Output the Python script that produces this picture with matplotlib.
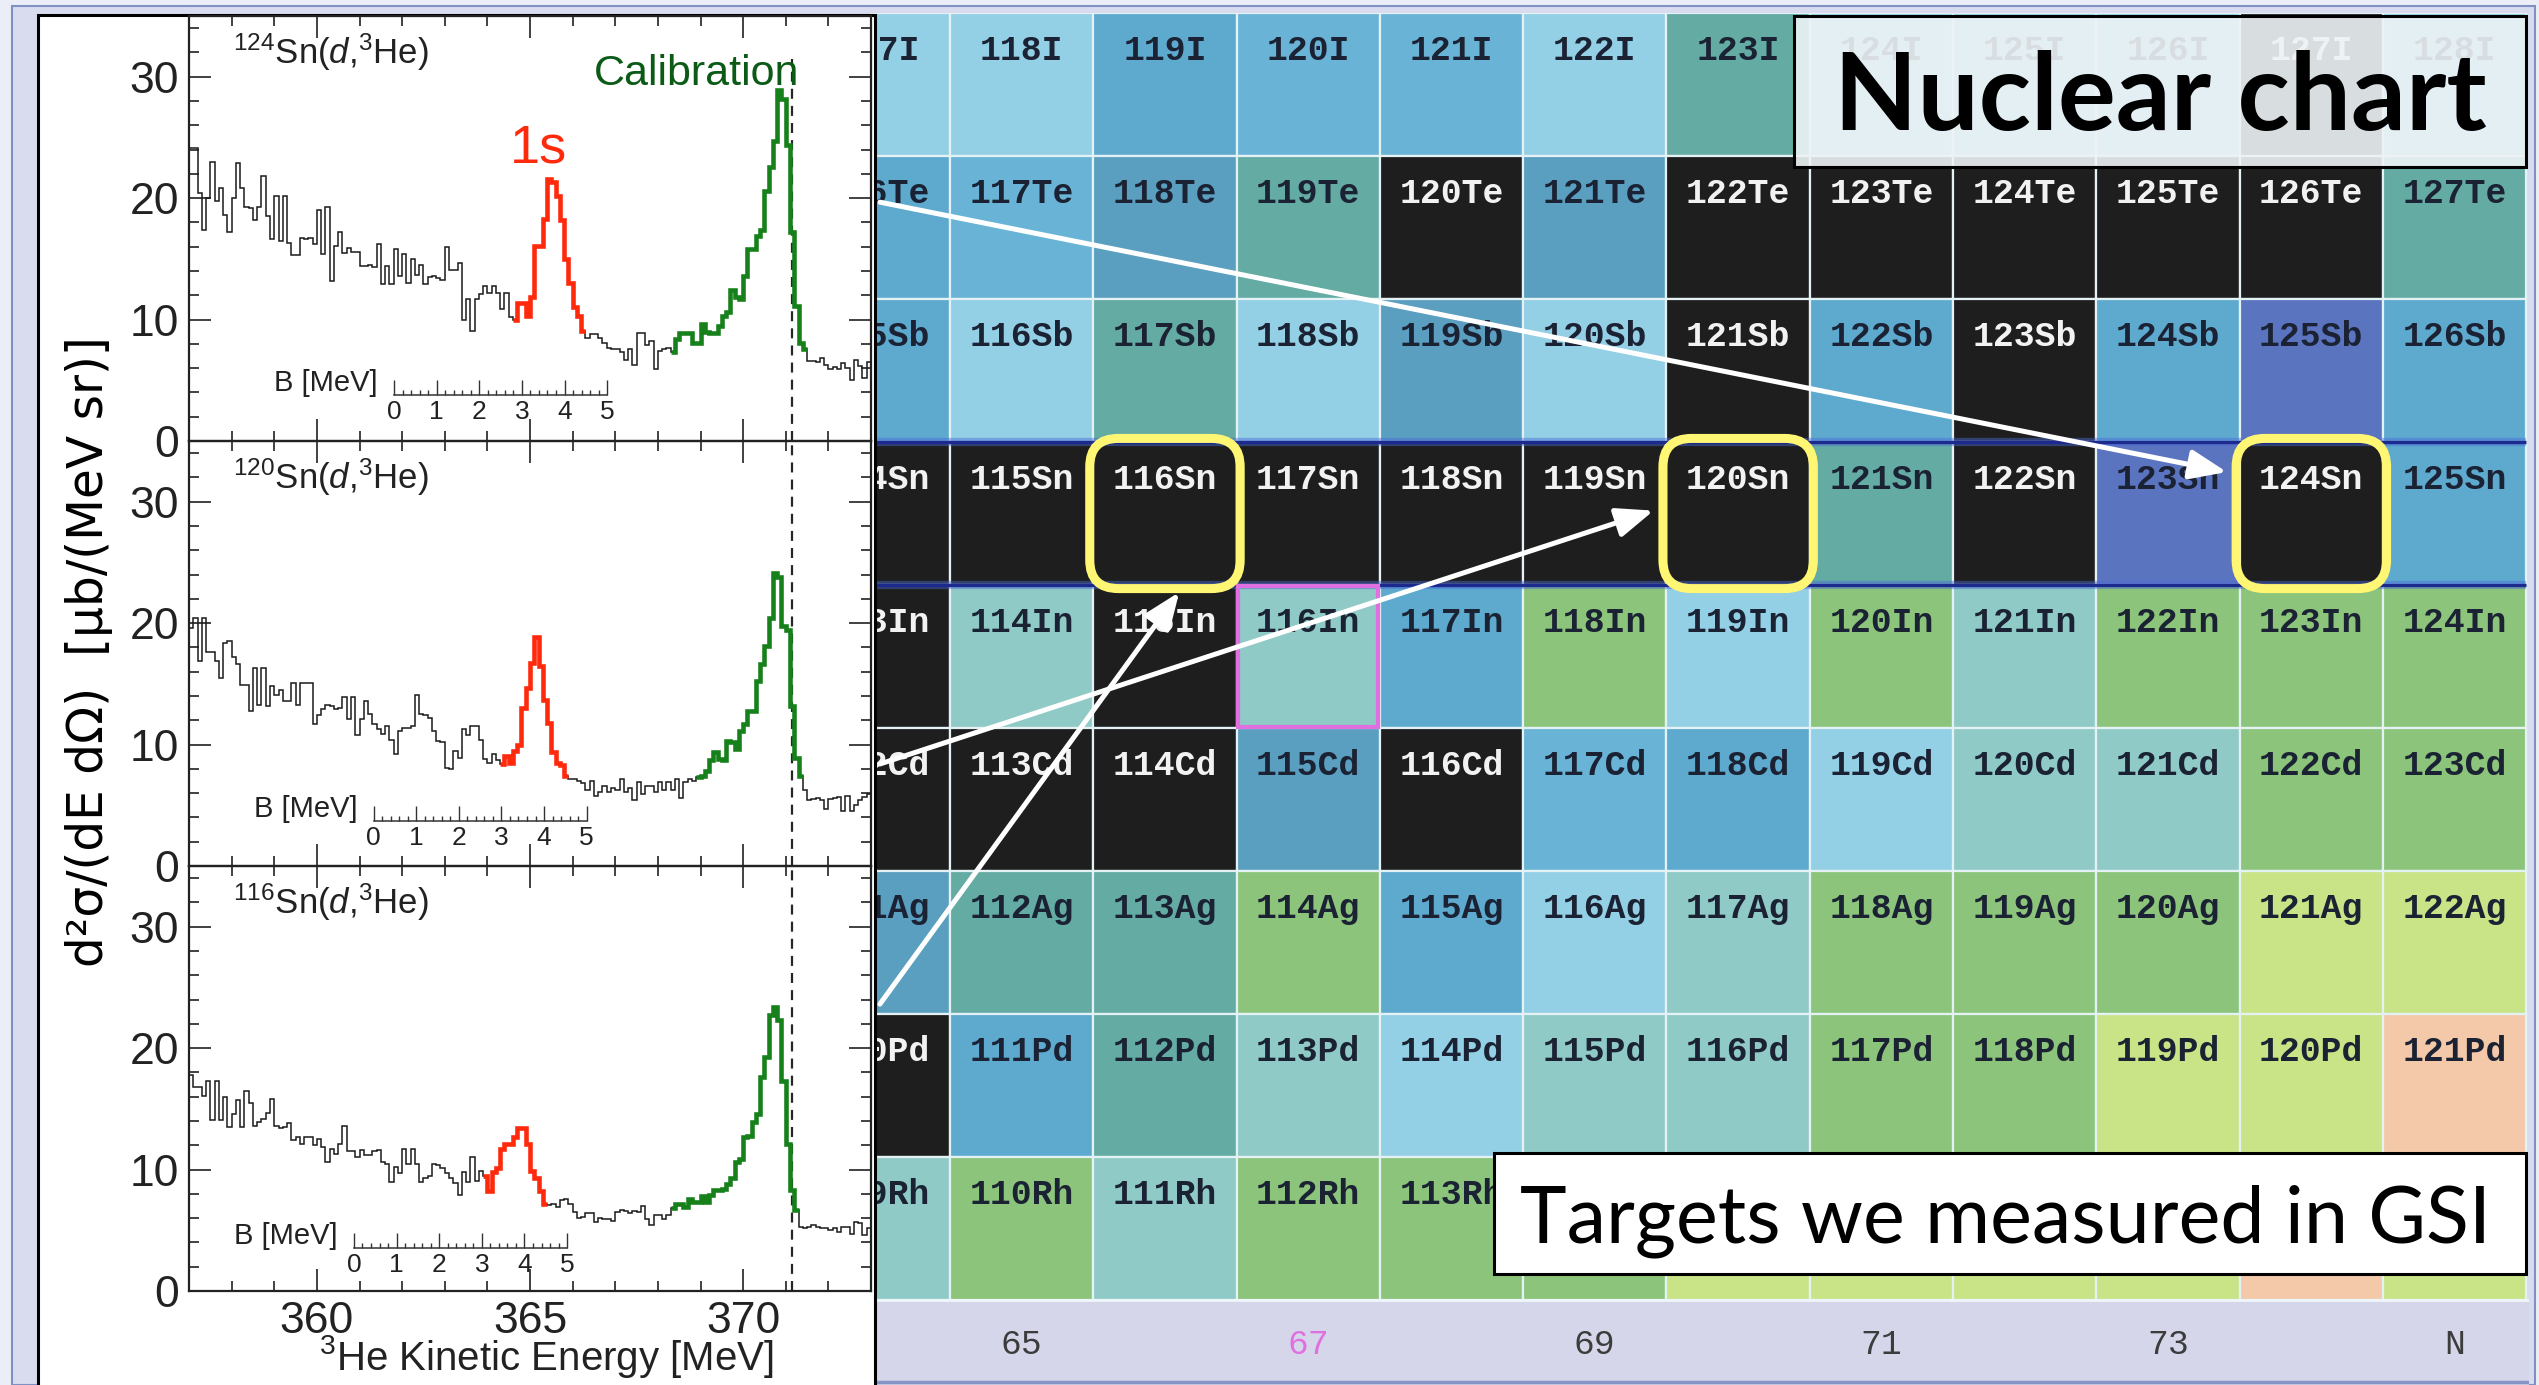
import numpy as np
import matplotlib
matplotlib.use("Agg")
import matplotlib.pyplot as plt
from matplotlib import font_manager
from matplotlib.patches import Rectangle, FancyBboxPatch
from matplotlib.ticker import MultipleLocator

W, H, DPI = 2539, 1385, 100

installed = {f.name for f in font_manager.fontManager.ttflist}
NARROW = "Liberation Sans Narrow" if "Liberation Sans Narrow" in installed else "Liberation Sans"
SANS = "Liberation Sans"
MONO = "Liberation Mono"
TITLE = "Lato"
plt.rcParams["font.family"] = [NARROW, "DejaVu Sans"]
plt.rcParams["mathtext.fontset"] = "custom"
plt.rcParams["mathtext.rm"] = SANS
plt.rcParams["mathtext.it"] = SANS + ":italic"
plt.rcParams["mathtext.bf"] = SANS + ":bold"

# ------------------------------------------------------------------
# (d,3He) spectra, 0.1 MeV bins from 357.0 to 373.0 MeV
# ------------------------------------------------------------------
E_MIN, E_MAX, BIN = 357.0, 373.0, 0.1
edges = np.round(np.arange(E_MIN, E_MAX + BIN / 2, BIN), 3)

sn124 = [24.1, 24.1, 20.4, 17.4, 20.0, 23.0, 19.8, 20.8, 18.6, 17.2,
         20.0, 22.9, 20.8, 19.3, 19.2, 18.2, 19.3, 21.8, 18.5, 16.6,
         20.2, 16.5, 20.2, 16.3, 15.3, 15.3, 16.7, 16.6, 16.7, 16.2,
         19.0, 15.4, 19.3, 13.2, 16.1, 17.2, 15.5, 15.9, 15.6, 15.6,
         14.4, 14.4, 14.5, 14.3, 16.2, 12.9, 14.4, 12.9, 15.8, 13.6,
         15.4, 13.0, 15.0, 13.7, 14.5, 12.9, 13.5, 13.6, 13.4, 13.3,
         16.0, 14.1, 14.1, 14.7, 10.0, 11.7, 9.1, 11.7, 12.1, 12.8,
         12.2, 12.8, 12.2, 10.9, 12.2, 10.2, 10.0, 11.4, 11.4, 10.3,
         11.9, 16.1, 16.1, 18.3, 21.6, 21.3, 20.2, 18.2, 15.0, 13.0,
         11.0, 10.3, 9.1, 8.5, 8.8, 8.8, 8.5, 8.1, 7.7, 7.6,
         7.6, 7.3, 6.7, 7.6, 6.3, 8.9, 8.9, 7.9, 8.2, 5.9,
         7.4, 7.6, 7.7, 7.3, 8.4, 8.9, 8.9, 8.9, 8.1, 8.1,
         9.6, 9.0, 8.9, 8.9, 9.5, 10.3, 10.6, 12.4, 11.9, 11.7,
         13.6, 15.8, 15.8, 16.9, 17.4, 20.6, 22.6, 24.7, 28.9, 28.2,
         24.4, 17.2, 11.1, 8.1, 7.6, 6.6, 6.6, 6.5, 6.8, 6.3,
         5.9, 6.1, 5.9, 6.4, 6.0, 5.0, 6.7, 6.2, 5.2, 6.5]

sn120 = [19.6, 20.4, 16.9, 20.4, 17.6, 17.6, 16.9, 15.5, 18.4, 18.5,
         17.2, 16.6, 14.9, 14.9, 12.8, 16.3, 13.3, 16.3, 13.2, 14.8,
         14.1, 14.5, 13.6, 13.6, 15.1, 13.3, 15.1, 15.1, 15.1, 11.7,
         12.4, 12.9, 13.3, 13.2, 12.9, 13.0, 13.9, 12.1, 13.9, 10.8,
         12.1, 13.6, 12.5, 11.7, 11.3, 10.9, 11.5, 10.4, 9.2, 11.1,
         11.4, 11.4, 11.5, 14.1, 12.5, 12.4, 12.2, 11.1, 10.3, 10.2,
         8.1, 8.0, 9.5, 8.9, 11.3, 10.8, 11.5, 11.5, 10.4, 8.8,
         8.5, 9.2, 8.7, 8.4, 9.1, 8.5, 9.5, 10.0, 13.0, 14.7,
         16.7, 18.9, 16.5, 13.7, 11.8, 9.4, 8.5, 8.3, 7.4, 7.2,
         7.2, 7.0, 6.8, 6.3, 7.0, 5.8, 6.1, 6.6, 6.1, 6.4,
         6.3, 7.2, 6.1, 6.4, 5.4, 6.9, 5.9, 6.6, 6.6, 6.1,
         6.9, 6.3, 6.9, 6.3, 7.2, 5.6, 6.9, 7.2, 7.0, 7.3,
         7.4, 7.8, 8.7, 9.4, 8.8, 8.7, 10.3, 10.2, 9.6, 11.1,
         11.7, 12.8, 12.8, 15.2, 16.6, 18.1, 20.4, 24.1, 23.8, 19.8,
         19.4, 13.2, 8.9, 7.4, 6.3, 5.4, 5.5, 5.6, 5.4, 4.7,
         5.5, 5.6, 5.7, 4.5, 5.8, 4.5, 5.0, 5.4, 5.7, 5.9]

sn116 = [17.8, 16.8, 16.8, 16.1, 17.3, 14.1, 17.3, 14.1, 16.0, 13.5,
         14.6, 15.7, 13.5, 16.5, 15.5, 13.6, 13.9, 14.2, 14.7, 15.8,
         13.6, 13.4, 13.5, 13.8, 12.4, 12.7, 12.1, 12.7, 12.7, 12.0,
         12.5, 11.9, 10.6, 11.7, 11.3, 12.1, 13.6, 11.5, 11.5, 11.0,
         11.6, 11.2, 11.2, 11.5, 11.6, 10.6, 10.5, 9.0, 10.2, 9.7,
         11.7, 10.5, 11.7, 10.5, 9.0, 9.3, 9.5, 10.5, 10.4, 10.1,
         9.7, 9.3, 8.9, 7.9, 9.8, 9.0, 11.0, 9.1, 9.9, 9.5,
         8.2, 9.8, 10.1, 11.7, 12.1, 12.1, 12.7, 13.4, 13.4, 12.1,
         9.9, 9.3, 8.2, 7.2, 7.1, 7.2, 6.9, 7.5, 7.6, 7.2,
         6.5, 6.0, 6.1, 6.4, 6.4, 5.7, 6.0, 5.9, 5.9, 5.8,
         6.5, 6.7, 6.6, 6.4, 6.6, 6.5, 7.0, 5.9, 5.4, 6.3,
         6.3, 5.9, 6.3, 6.8, 7.2, 7.2, 6.9, 7.6, 7.3, 7.3,
         7.8, 7.3, 7.9, 8.3, 8.3, 8.4, 8.8, 9.3, 10.6, 10.9,
         12.7, 12.8, 13.9, 14.6, 17.6, 19.3, 22.7, 23.4, 22.3, 17.3,
         12.1, 8.3, 6.7, 5.3, 5.2, 5.3, 5.4, 5.3, 5.2, 5.2,
         5.0, 5.2, 4.9, 5.3, 5.3, 4.7, 5.7, 5.6, 4.6, 5.2]

target_labels = [r"$^{124}$Sn($d$,$^{3}$He)", r"$^{120}$Sn($d$,$^{3}$He)",
                 r"$^{116}$Sn($d$,$^{3}$He)"]
spectra = [sn124, sn120, sn116]
bins_1s = [(76, 93), (73, 89), (69, 84)]          # bins drawn as the 1s peak
bins_calib = [(113, 145), (119, 144), (113, 143)]  # bins drawn as calibration
B_zero = [361.81, 361.33, 360.87]                  # energy at B = 0 MeV
B_axis_y = [3.8, 3.72, 3.56]
E_calib_line = 371.15

RED = "#ff2a0c"
GREEN = "#16801a"
GREEN_TEXT = "#0b5a16"

# ------------------------------------------------------------------
# nuclear chart: Z = 53 (I) .. 45 (Rh), N = 64 .. 75
# ------------------------------------------------------------------
elements = ["I", "Te", "Sb", "Sn", "In", "Cd", "Ag", "Pd", "Rh"]
Z_values = [53, 52, 51, 50, 49, 48, 47, 46, 45]
N_values = list(range(64, 76))
# colour class of each nuclide, one row per element, N = 64..75
cell_class = [
    "L L M m m L T L L L K L".split(),   # I
    "M m D T K D K K K K K T".split(),   # Te
    "M L T L D L K M K M P M".split(),   # Sb
    "K K K K K K K T K P K M".split(),   # Sn
    "K A K A M G L G A G G G".split(),   # In
    "K K K D K m M L A A G G".split(),   # Cd
    "D T T G M L A G G G Y Y".split(),   # Ag
    "K M T A L A A G G Y Y E".split(),   # Pd
    "A G A G G G Y Y Y Y E Y".split(),   # Rh
]
class_colors = {
    "K": "#1e1e1e",   # stable
    "L": "#93cfe5",
    "M": "#5eaacf",
    "m": "#69b4d6",
    "D": "#5a9ec0",
    "T": "#63aba3",
    "A": "#8fcac6",
    "G": "#8bc47a",
    "Y": "#c9e486",
    "E": "#f3c9a9",
    "P": "#5b74bf",
}
N_axis_labels = {65: "65", 67: "67", 69: "69", 71: "71", 73: "73", 75: "N"}
highlight_N, highlight_Z = 67, 49          # framed nuclide (116In)
target_N = [74, 70, 66]                    # 124Sn, 120Sn, 116Sn
target_Z = 50
legend_box_cells = {(45, N) for N in range(69, 76)}   # covered by the caption box

# ------------------------------------------------------------------
fig = plt.figure(figsize=(W / DPI, H / DPI), dpi=DPI, facecolor="#eceef7")


def fx(px):
    return px / W


def fy(py):
    return 1 - py / H


# slide frame
fig.patches.append(Rectangle((fx(12), fy(1385)), fx(2535) - fx(12), fy(6) - fy(1385),
                             transform=fig.transFigure, facecolor="#d9dcef",
                             edgecolor="#7f90c2", lw=1.5, zorder=-1))

# ---------------- nuclear chart ----------------
CH_L, CH_R, CH_T, CH_B = 870, 2529, 13, 1385
COL_W, ROW_H, X_N645 = 143.3, 143.0, 950
axc = fig.add_axes([fx(CH_L), fy(CH_B), fx(CH_R) - fx(CH_L), fy(CH_T) - fy(CH_B)], zorder=0)
x0 = 64.5 - (X_N645 - CH_L) / COL_W
x1 = 64.5 + (CH_R - X_N645) / COL_W
y0 = 53.5 - (CH_B - CH_T) / ROW_H
axc.set_xlim(x0, x1)
axc.set_ylim(y0, 53.5)
axc.axis("off")

for sym, Z, row in zip(elements, Z_values, cell_class):
    for N, cls in zip(N_values, row):
        axc.add_patch(Rectangle((N - 0.5, Z - 0.5), 1, 1, facecolor=class_colors[cls],
                                edgecolor="#e4f2f6", lw=1.6, zorder=1))
        if (Z, N) in legend_box_cells:
            continue
        tc = "#f2f2f2" if cls == "K" else "#1b2233"
        axc.text(N, Z + 0.24, f"{Z + N}{sym}", ha="center", va="center", fontsize=25,
                 family=MONO, weight="bold", color=tc, zorder=2)

# N axis strip
axc.add_patch(Rectangle((x0, y0), x1 - x0, 44.5 - y0, facecolor="#d5d6ea",
                        edgecolor="none", zorder=1))
axc.axhline(44.5, color="#eef6fa", lw=2, zorder=1.5)
axc.axhline(y0 + 0.02, color="#8595c6", lw=2.5, zorder=1.5)
for N, lab in N_axis_labels.items():
    axc.text(N, 44.19, lab, ha="center", va="center", fontsize=25, family=MONO,
             color="#e070e0" if N == 67 else "#3c3c3c", zorder=2)

# Z = 50 row markers
for zb in (49.5, 50.5):
    axc.plot([x0, 75.5], [zb, zb], color="#4a6ad8", lw=6, alpha=0.45, zorder=2.5,
             solid_capstyle="butt")
    axc.plot([x0, 75.5], [zb, zb], color="#1b2a8c", lw=2.4, zorder=2.6,
             solid_capstyle="butt")

# framed nuclide
axc.add_patch(Rectangle((highlight_N - 0.5 + 0.01, highlight_Z - 0.5 + 0.01), 0.98, 0.98,
                        facecolor="none", edgecolor="#e070e0", lw=3, zorder=3))

# measured targets
for N in target_N:
    axc.add_patch(FancyBboxPatch((N - 0.5, target_Z - 0.5), 1, 1,
                                 boxstyle="round,pad=0.025,rounding_size=0.2",
                                 facecolor="none", edgecolor="#fff674", lw=6.5, zorder=4))

# title boxes
axc.add_patch(Rectangle((fx(1794), fy(167)), fx(2526) - fx(1794), fy(16) - fy(167),
                        transform=fig.transFigure, facecolor=(0.935, 0.953, 0.965, 0.9),
                        edgecolor="black", lw=2.2, zorder=7, clip_on=False))
axc.text(fx(2160), fy(130), "Nuclear chart", transform=fig.transFigure, ha="center",
         va="baseline", fontsize=78, family=TITLE, weight="bold", color="black", zorder=8)
axc.add_patch(Rectangle((fx(1494), fy(1274)), fx(2526) - fx(1494), fy(1153) - fy(1274),
                        transform=fig.transFigure, facecolor="white",
                        edgecolor="black", lw=2.2, zorder=7, clip_on=False))
axc.text(fx(2005), fy(1242), "Targets we measured in GSI", transform=fig.transFigure,
         ha="center", va="baseline", fontsize=57, family=TITLE, color="black", zorder=8)

# ---------------- spectra panel ----------------
fig.patches.append(Rectangle((fx(38), fy(1395)), fx(875) - fx(38), fy(15) - fy(1395),
                             transform=fig.transFigure, facecolor="white",
                             edgecolor="black", lw=2.2, zorder=1))

AX_L, AX_R = 189, 871
panel_tops = [16, 441, 866]
PANEL_H = 425
axes = []
for k, (vals, lab) in enumerate(zip(spectra, target_labels)):
    top = panel_tops[k]
    ax = fig.add_axes([fx(AX_L), fy(top + PANEL_H), fx(AX_R) - fx(AX_L), PANEL_H / H],
                      zorder=2)
    ax.patch.set_alpha(0)
    ax.set_xlim(E_MIN, E_MAX)
    ax.set_ylim(0, 35)
    v = np.array(vals)
    ax.stairs(v, edges, baseline=None, color="#1a1a1a", lw=1.1, zorder=3)
    a, b = bins_1s[k]
    ax.stairs(v[a:b], edges[a:b + 1], baseline=None, color=RED, lw=3.3, zorder=4)
    a, b = bins_calib[k]
    ax.stairs(v[a:b], edges[a:b + 1], baseline=None, color=GREEN, lw=3.3, zorder=4)
    ax.axvline(E_calib_line, ymin=0, ymax=(0.9 if k == 0 else 1.0), color="#262626",
               lw=1.6, ls=(0, (4.5, 3.2)), zorder=2)

    ax.xaxis.set_major_locator(MultipleLocator(5))
    ax.xaxis.set_minor_locator(MultipleLocator(1))
    ax.yaxis.set_major_locator(MultipleLocator(10))
    ax.yaxis.set_minor_locator(MultipleLocator(2))
    ax.tick_params(which="both", direction="in", top=True, right=True, width=1.3,
                   color="#333333", labelsize=32, labelcolor="#222222", pad=7)
    ax.tick_params(which="major", length=16)
    ax.tick_params(which="minor", length=7.5)
    if k < 2:
        ax.tick_params(axis="x", labelbottom=False)
    for s in ax.spines.values():
        s.set_linewidth(1.6)
        s.set_color("#222222")

    ax.text(0.064, 0.888, lab, transform=ax.transAxes, fontsize=25, family=SANS,
            va="baseline", ha="left", color="#222222")

    # binding-energy scale
    axb = ax.inset_axes([B_zero[k], B_axis_y[k], 5.0, 2.0], transform=ax.transData)
    axb.patch.set_alpha(0)
    axb.set_xlim(0, 5)
    axb.set_ylim(0, 1)
    for s in ("top", "left", "right"):
        axb.spines[s].set_visible(False)
    axb.spines["bottom"].set_linewidth(1.1)
    axb.spines["bottom"].set_color("#333333")
    axb.set_yticks([])
    axb.xaxis.set_major_locator(MultipleLocator(1))
    axb.xaxis.set_minor_locator(MultipleLocator(0.2))
    axb.tick_params(axis="x", which="both", direction="in", labelsize=19, pad=4,
                    width=1.0, color="#333333", labelcolor="#222222")
    axb.tick_params(axis="x", which="major", length=11)
    axb.tick_params(axis="x", which="minor", length=3.5)
    axb.text(-0.075, 0.14, "B [MeV]", transform=axb.transAxes, ha="right",
             va="baseline", fontsize=21, family=SANS, color="#222222")
    axes.append(ax)

axes[0].text(365.2, 22.9, "1s", color=RED, fontsize=39, family=SANS, ha="center",
             va="baseline")
axes[0].text(368.9, 29.3, "Calibration", color=GREEN_TEXT, fontsize=31, family=SANS,
             ha="center", va="baseline")

fig.text(fx(89), fy(652), "d²σ/(dE dΩ)  [μb/(MeV sr)]", rotation=90, fontsize=35,
         family="DejaVu Sans", ha="center", va="center", color="black", zorder=3)
fig.text(fx(546), fy(1370), r"$^{3}$He Kinetic Energy [MeV]", fontsize=29, family=SANS,
         ha="center", va="baseline", color="#222222", zorder=3)

# arrows from each spectrum to its target in the chart
arrow_start_y = [0.562, 0.24, 0.675]
arrow_tip_offset = [(-0.59, 0.29), (-0.59, 0.02), (0.10, -0.55)]
for ax, ys, N, (dx, dy) in zip(axes, arrow_start_y, target_N, arrow_tip_offset):
    axc.annotate("", xy=(N + dx, target_Z + dy), xycoords="data",
                 xytext=(1.013, ys), textcoords=ax.transAxes,
                 arrowprops=dict(arrowstyle="-|>,head_length=1.5,head_width=0.6",
                                 color="white", lw=3.6, mutation_scale=15,
                                 shrinkA=0, shrinkB=0),
                 annotation_clip=False, zorder=6)

fig.savefig("out.png", dpi=DPI, facecolor=fig.get_facecolor())
